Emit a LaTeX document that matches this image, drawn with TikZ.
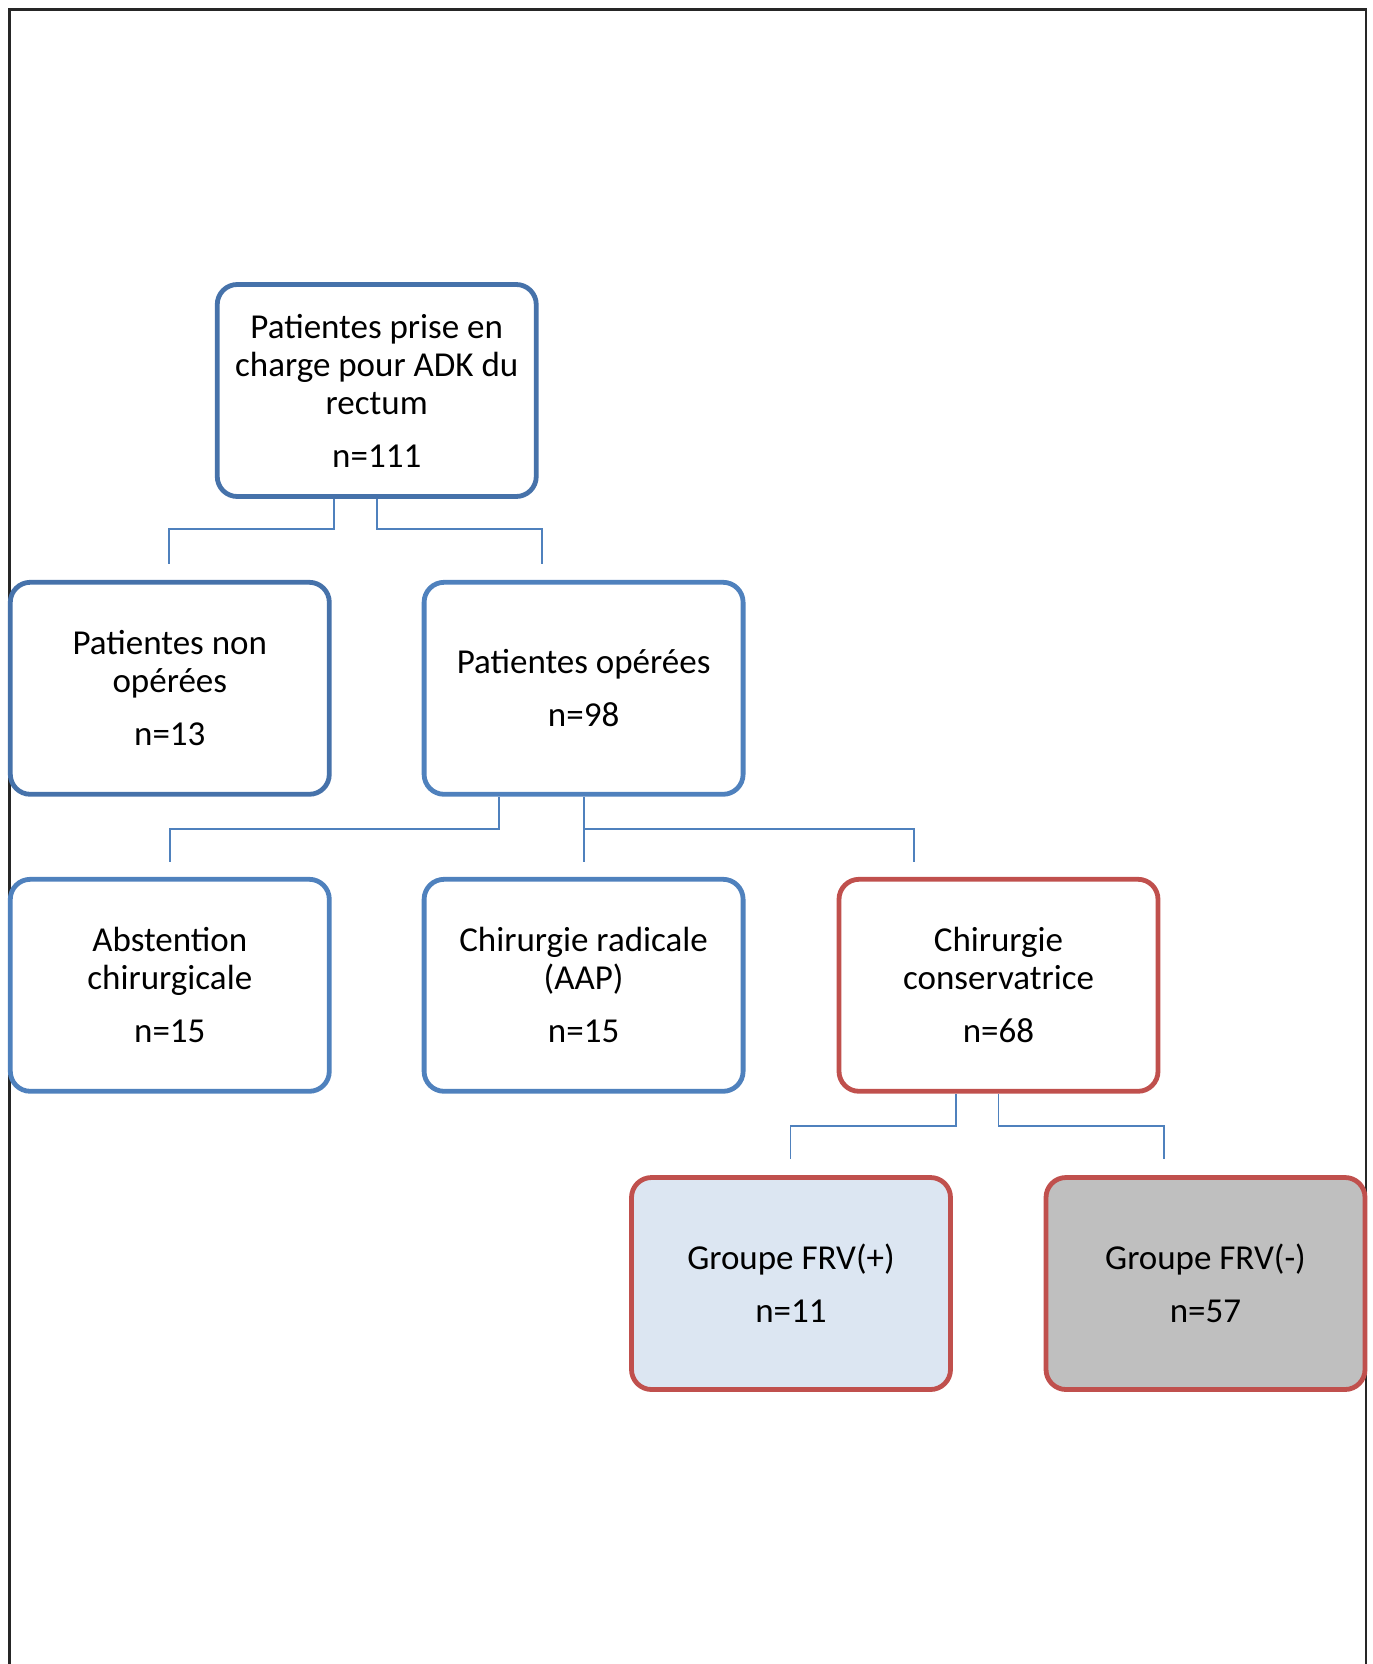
\documentclass[tikz,border=0pt]{standalone}
\usepackage{fontspec}
\setmainfont{Carlito}
\definecolor{blueD}{HTML}{4672AA}
\definecolor{blueB}{HTML}{4F81BD}
\definecolor{redB}{HTML}{C0504D}
\definecolor{lightB}{HTML}{DCE6F2}
\definecolor{grayF}{HTML}{BFBFBF}
\definecolor{frameC}{HTML}{262626}
\begin{document}
\begin{tikzpicture}[x=0.5pt,y=-0.5pt,
  boxst/.style={draw, line width=2.4pt, rounded corners=10pt, fill=white,
    minimum width=159.5pt, minimum height=106pt, align=center, inner sep=2pt,
    font=\fontsize{17.5}{19}\selectfont},
  conn/.style={draw=blueB, line width=0.9pt}]
\useasboundingbox (0,0) rectangle (1372,1664);
\draw[frameC, line width=1.1pt] (9.5,1664) -- (9.5,9.5) -- (1366,9.5) -- (1366,1664);

\node[boxst, draw=blueD] (top) at (376.75,390.5) {Patientes prise en\\charge pour ADK du\\rectum\\[7.5pt]n=111};
\node[boxst, draw=blueD] (nonop) at (169.8,688.3) {Patientes non\\opérées\\[7.5pt]n=13};
\node[boxst, draw=blueB] (op) at (583.6,688.3) {Patientes opérées\\[7.5pt]n=98};
\node[boxst, draw=blueB] (abst) at (169.8,985.3) {Abstention\\chirurgicale\\[7.5pt]n=15};
\node[boxst, draw=blueB] (rad) at (583.6,985.3) {Chirurgie radicale\\(AAP)\\[7.5pt]n=15};
\node[boxst, draw=redB] (cons) at (998.5,985.3) {Chirurgie\\conservatrice\\[7.5pt]n=68};
\node[boxst, draw=redB, fill=lightB] (frvp) at (791,1283.5) {Groupe FRV(+)\\[7.5pt]n=11};
\node[boxst, draw=redB, fill=grayF] (frvm) at (1205.5,1283.5) {Groupe FRV(-)\\[7.5pt]n=57};

% tap x-positions
\coordinate (t1) at (334,0);
\coordinate (t2) at (377,0);
\coordinate (t3) at (498.7,0);
\coordinate (t4) at (583.6,0);
\coordinate (t5) at (956,0);
\coordinate (t6) at (998.5,0);
% free ends
\coordinate (e1) at (168.7,563.5);
\coordinate (e2) at (542,563.5);
\coordinate (e3) at (169.8,861.6);
\coordinate (e4) at (583.6,861.6);
\coordinate (e5) at (913.6,861.6);
\coordinate (e6) at (790.5,1158.7);
\coordinate (e7) at (1164,1158.7);

\draw[conn] (top.south -| t1) -- ([yshift=-15pt]top.south -| t1) -| (e1);
\draw[conn] (top.south -| t2) -- ([yshift=-15pt]top.south -| t2) -| (e2);
\draw[conn] (op.south -| t3) -- ([yshift=-16pt]op.south -| t3) -| (e3);
\draw[conn] (op.south -| t4) -- (e4);
\draw[conn] ([yshift=-16pt]op.south -| t4) -| (e5);
\draw[conn] (cons.south -| t5) -- ([yshift=-16pt]cons.south -| t5) -| (e6);
\draw[conn] (cons.south -| t6) -- ([yshift=-16pt]cons.south -| t6) -| (e7);
\end{tikzpicture}
\end{document}
